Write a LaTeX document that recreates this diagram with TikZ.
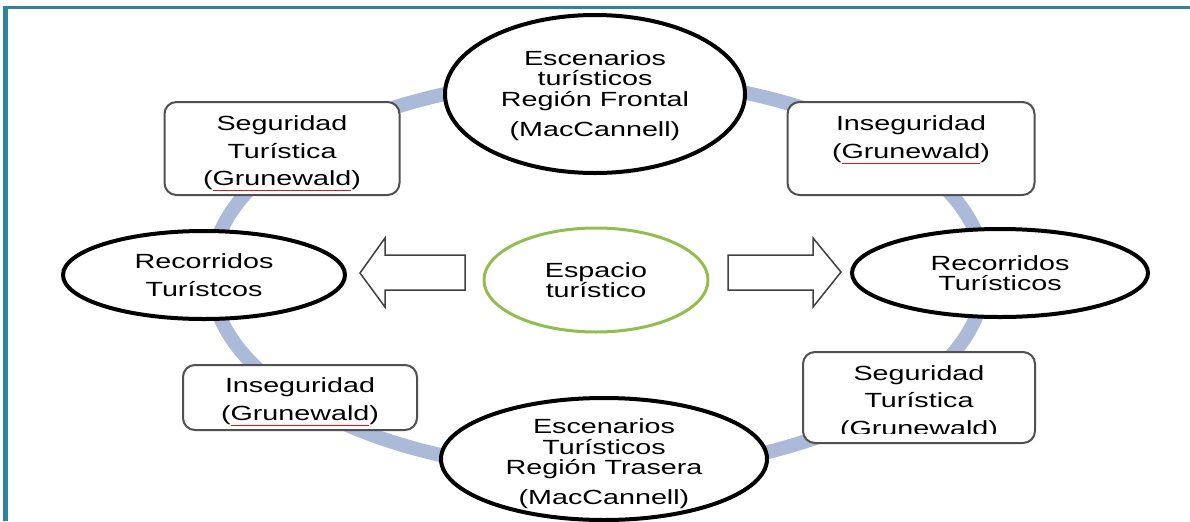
\documentclass[tikz,border=0pt]{standalone}
\usepackage{fontspec}
\setmainfont{Liberation Sans}[FakeStretch=1.4]
\usetikzlibrary{shapes.geometric}

\definecolor{ringblue}{RGB}{170,186,216}
\definecolor{hubgreen}{RGB}{146,190,80}
\definecolor{tablateal}{RGB}{46,132,156}
\definecolor{boxgray}{RGB}{80,80,80}
\definecolor{spellred}{RGB}{235,20,20}

\newsavebox\spellbox
\newcommand\spell[1]{\sbox\spellbox{#1}\rlap{\textcolor{spellred}{\rule[-2.9pt]{\wd\spellbox}{0.6pt}}}\usebox\spellbox}
\newcommand\lowerby[1]{\rule{0pt}{\dimexpr7.4pt+#1*2\relax}}
\newcommand\linesnarrow{\fontsize{10.25pt}{10.25pt}\selectfont}
\newcommand\lineswide{\fontsize{10.25pt}{13.75pt}\selectfont}

\begin{document}
\begin{tikzpicture}[x=0.5pt,y=-0.5pt,semithick]
  \tikzstyle{bigoval}=[ellipse,draw=black,line width=2pt,fill=white,inner sep=0pt,
                       align=center,text=black,font=\linesnarrow]
  \tikzstyle{infobox}=[rectangle,rounded corners=6pt,draw=boxgray,line width=1pt,
                       fill=white,inner sep=0pt,align=center,text=black,font=\lineswide]
  \tikzstyle{hub}=[ellipse,draw=hubgreen,line width=1.5pt,fill=white,inner sep=0pt,
                   align=center,text=black,font=\linesnarrow]
  \tikzstyle{ring}=[draw=ringblue,line width=7pt]
  \tikzstyle{blockarrow}=[draw=black!75,line width=0.75pt,fill=white,line join=miter]
  \tikzstyle{tablaframe}=[draw=tablateal]
  \useasboundingbox (0,0) rectangle (1190,521);

  % marco
  \draw[tablaframe,line width=2.5pt] (5.5,521) -- (5.5,6.75);
  \draw[tablaframe,line width=1.5pt] (3,7.5) -- (1190,7.5);

  % anillo
  \draw[ring] (598,275) ellipse [x radius=387,y radius=197];

  \node[bigoval,minimum width=150pt,minimum height=79pt] (EF) at (595,94)
  {\lowerby{0.75pt}Escenarios\\turísticos\\Región Frontal\\[4.75pt](MacCannell)};
  \node[bigoval,minimum width=163pt,minimum height=61pt] (ET) at (604,459) {};
  \node[bigoval,draw=none,fill=none] (ETtxt) at ([yshift=-2.5pt]ET.center)
  {Escenarios\\Turísticos\\Región Trasera\\[4.75pt](MacCannell)};
  \node[bigoval,font=\lineswide,minimum width=141pt,minimum height=44pt] (RI) at (204,275)
  {Recorridos\\Turístcos};
  \node[bigoval,minimum width=148pt,minimum height=44pt] (RD) at (1000,273)
  {Recorridos\\Turísticos};
  \node[hub,minimum width=112pt,minimum height=52pt] (ESP) at (596,280)
  {Espacio\\turístico};

  \node[infobox,minimum width=117.5pt,minimum height=46.5pt] (STI) at (282,148.5)
  {\lowerby{2.5pt}Seguridad\\Turística\\(\spell{Grunewald})};
  \node[infobox,minimum width=123.5pt,minimum height=46.5pt] (INS) at (911,148.5)
  {\lowerby{1.25pt}Inseguridad\\(\spell{Grunewald})\\\mbox{}};
  \node[infobox,minimum width=117pt,minimum height=32.5pt] (INI) at (300,397.5)
  {\lowerby{2.25pt}Inseguridad\\(\spell{Grunewald})};
  \node[infobox,minimum width=116pt,minimum height=45.5pt] (STD) at (919,397.5) {};
  \begin{scope}
    \clip (STD.north west) rectangle ([yshift=5.5pt]STD.south east);
    \node[infobox,draw=none,fill=none] (STDtxt) at ([yshift=-2.5pt]STD.center)
    {Seguridad\\Turística\\(Grunewald)};
  \end{scope}

  % flechas de bloque
  \draw[blockarrow] (360,273) -- (385,238) -- (385,255) -- (465,255)
        -- (465,290) -- (385,290) -- (385,307) -- cycle;
  \draw[blockarrow] (841,272) -- (813,238) -- (813,255) -- (728,255)
        -- (728,290) -- (813,290) -- (813,307) -- cycle;

\end{tikzpicture}
\end{document}
